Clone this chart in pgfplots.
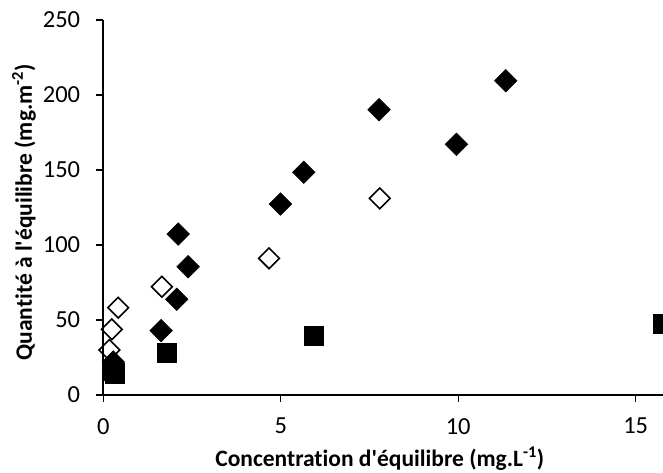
\documentclass[border=0pt]{standalone}
\usepackage{pgfplots}
\pgfplotsset{compat=1.18}
\usepackage{fontspec}
\setmainfont{Carlito}[Ligatures={NoCommon}]
\begin{document}
\begin{tikzpicture}[x=1pt,y=1pt]
\begin{axis}[
  at={(0,0)}, anchor=south west,
  scale only axis,
  width=559.7pt, height=375pt,
  xmin=0, xmax=15.77, ymin=0, ymax=250,
  axis lines=left,
  axis line style={-, line width=1.8pt},
  xtick={0,5,10,15}, ytick={0,50,100,150,200,250},
  tick align=outside, tick style={line width=1.4pt, black},
  major tick length=7pt,
  /pgf/number format/assume math mode=true,
  ticklabel style={font=\fontsize{24.5}{28}\selectfont, inner sep=0pt},
  xticklabel style={yshift=-16pt},
  yticklabel style={xshift=-16pt},
  xlabel={Concentration d\textquotesingle équilibre (mg.L\textsuperscript{-1})},
  ylabel={Quantité à l\textquotesingle équilibre (mg.m\textsuperscript{-2})},
  label style={font=\bfseries\fontsize{23.5}{28}\selectfont},
  xlabel style={at={(axis description cs:0.494,-0.191)}, anchor=base},
  ylabel style={at={(axis description cs:-0.1274,0.487)}, anchor=base},
  clip=true,
]
% filled diamonds
\addplot[only marks, mark=square*, mark size=8pt, mark options={rotate=45, fill=black, draw=black, line width=0.5pt}]
  coordinates {(0.28,22) (1.63,42.9) (2.07,63.8) (2.39,85.5) (2.11,107.3) (4.99,127.3) (5.65,148.5) (7.77,190.2) (9.95,167.1) (11.34,209.5)};
% open diamonds
\addplot[only marks, mark=square, mark size=7.3pt, mark options={rotate=45, fill=white, draw=black, line width=1.6pt}]
  coordinates {(0.17,30) (0.24,43.8) (0.42,58.2) (1.65,72.2) (4.67,91.1) (7.79,131.1)};
% filled squares
\addplot[only marks, mark=square*, mark size=9.5pt, mark options={fill=black, draw=black, line width=0.5pt}]
  coordinates {(0.26,16.5) (0.31,14.5) (1.79,28.2) (5.94,39.5) (15.76,47.2)};
\end{axis}
\pgfresetboundingbox
\path[use as bounding box] (-103.3pt,-78pt) rectangle (559.7pt,395pt);
\end{tikzpicture}
\end{document}
